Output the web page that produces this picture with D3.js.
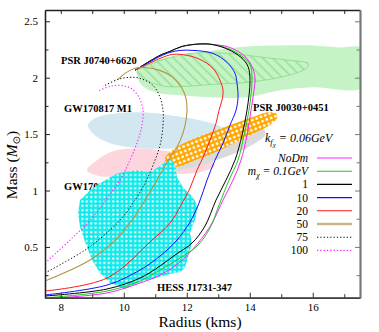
<!DOCTYPE html>
<html>
<head>
<meta charset="utf-8">
<script src="https://cdn.jsdelivr.net/npm/d3@7"></script>
<style>
body { margin: 0; background: #fff; }
svg { display: block; font-family: "Liberation Serif", "Times New Roman", serif; }
</style>
</head>
<body>
<svg id="chart" width="379" height="332"></svg>
<script>
// ---- curves: radius (km) and mass (Msun) ----
const nodmR = [7.976, 9.468, 10.516, 11.151, 11.786, 12.357, 12.802, 13.151, 13.468, 13.722, 13.913, 14.040, 14.135, 14.167, 14.071, 13.881, 13.627, 13.278, 12.738, 12.421, 11.849, 11.468, 11.151, 10.357];
const nodmM = [0.05, 0.092, 0.180, 0.251, 0.366, 0.534, 0.711, 0.915, 1.092, 1.269, 1.490, 1.711, 1.888, 2.003, 2.100, 2.180, 2.233, 2.277, 2.295, 2.299, 2.277, 2.233, 2.198, 2.065];

const m01R = [7.659, 9.468, 10.516, 11.151, 11.786, 12.357, 12.738, 13.024, 13.341, 13.627, 13.817, 13.976, 14.071, 14.008, 13.754, 13.310, 12.802, 12.421, 11.849, 11.468, 11.151, 10.357];
const m01M = [0.052, 0.109, 0.198, 0.295, 0.401, 0.516, 0.667, 0.870, 1.092, 1.269, 1.490, 1.711, 1.976, 2.118, 2.189, 2.259, 2.295, 2.299, 2.277, 2.233, 2.198, 2.065];

const m1R = [7.5, 9.468, 10.516, 11.151, 11.627, 12.167, 12.579, 12.929, 13.246, 13.532, 13.754, 13.913, 14.008, 13.944, 13.722, 13.310, 12.802, 12.421, 11.849, 11.468, 11.151, 10.357];
const m1M = [0.065, 0.127, 0.224, 0.331, 0.428, 0.534, 0.685, 0.915, 1.092, 1.269, 1.490, 1.711, 1.976, 2.100, 2.180, 2.251, 2.295, 2.299, 2.277, 2.233, 2.198, 2.065];

const m10R = [7.5, 9.468, 10.516, 11.151, 11.690, 12.103, 12.389, 12.643, 12.897, 13.151, 13.373, 13.563, 13.627, 13.595, 13.532, 13.278, 12.833, 12.198, 11.786, 11.468, 11.151, 10.357];
const m10M = [0.074, 0.162, 0.295, 0.419, 0.561, 0.720, 0.888, 1.092, 1.269, 1.419, 1.579, 1.711, 1.826, 1.950, 2.038, 2.136, 2.215, 2.242, 2.242, 2.224, 2.189, 2.065];

const m20R = [7.5, 9.468, 10.833, 11.468, 11.817, 12.103, 12.325, 12.548, 12.738, 12.929, 13.024, 13.119, 13.151, 13.056, 12.833, 12.421, 12.008, 11.563, 11.151, 10.357];
const m20M = [0.109, 0.224, 0.543, 0.711, 0.870, 1.021, 1.180, 1.313, 1.446, 1.596, 1.711, 1.800, 1.888, 1.976, 2.083, 2.162, 2.198, 2.207, 2.171, 2.065];

const m50R = [7.5, 8.929, 9.722, 10.262, 10.675, 11.056, 11.373, 11.690, 11.881, 11.976, 12.008, 11.976, 11.849, 11.563, 11.151, 10.675, 10.357, 10.040, 9.817];
const m50M = [0.198, 0.384, 0.561, 0.738, 0.915, 1.092, 1.251, 1.384, 1.508, 1.623, 1.711, 1.817, 1.906, 2.003, 2.065, 2.091, 2.083, 2.038, 1.985];

const m75R = [7.5, 8.770, 9.563, 9.944, 10.357, 10.675, 10.929, 11.151, 11.246, 11.246, 11.151, 10.929, 10.516, 10.198, 9.817, 9.341];
const m75M = [0.269, 0.472, 0.649, 0.755, 0.915, 1.065, 1.224, 1.401, 1.579, 1.711, 1.826, 1.932, 1.994, 2.003, 1.985, 1.923];

const m100R = [7.5, 8.294, 9.024, 9.468, 9.881, 10.198, 10.452, 10.579, 10.611, 10.484, 10.230, 9.881, 9.563, 9.151];
const m100M = [0.357, 0.561, 0.764, 0.932, 1.092, 1.269, 1.446, 1.579, 1.711, 1.826, 1.906, 1.932, 1.923, 1.879];

const seriesNames = ["NoDm", "0.1", "1", "10", "20", "50", "75", "100"];

// ---- observational regions (outline R, M) ----
const j0740BandR = [10.421, 10.833, 11.786, 12.833, 13.913, 14.960, 16.008, 16.865, 17.6, 17.6, 16.008, 14.960, 13.913, 12.833, 11.786, 10.992, 10.579];
const j0740BandM = [2.047, 2.136, 2.198, 2.242, 2.277, 2.286, 2.286, 2.268, 2.259, 1.915, 1.915, 1.888, 1.826, 1.826, 1.844, 1.870, 1.932];

const j0740HatchR = [10.421, 10.833, 11.373, 12.103, 13.373, 14.421, 15.278, 15.849, 15.849, 15.690, 14.960, 13.913, 12.833, 11.944, 11.310, 10.738];
const j0740HatchM = [2.056, 2.118, 2.171, 2.215, 2.215, 2.180, 2.153, 2.127, 2.100, 2.065, 2.003, 1.959, 1.941, 1.923, 1.923, 1.976];

const gwM1R = [8.865, 9.087, 9.786, 10.611, 11.468, 12.421, 13.119, 13.373, 12.897, 11.786, 10.516, 9.563, 9.087];
const gwM1M = [1.579, 1.640, 1.684, 1.693, 1.667, 1.623, 1.561, 1.490, 1.401, 1.375, 1.375, 1.419, 1.490];

const gwM2R = [8.833, 9.151, 9.659, 10.516, 11.627, 12.579, 12.897, 12.421, 11.151, 9.881, 9.246];
const gwM2M = [1.180, 1.269, 1.348, 1.375, 1.339, 1.286, 1.224, 1.162, 1.145, 1.127, 1.127];

const j0030GreyR = [11.405, 12.103, 12.833, 13.532, 14.167, 14.484, 14.452, 14.008, 13.056, 12.103, 11.468];
const j0030GreyM = [1.171, 1.198, 1.260, 1.330, 1.419, 1.490, 1.543, 1.534, 1.428, 1.313, 1.251];

const j0030R = [11.310, 11.532, 12.103, 12.833, 13.532, 14.167, 14.579, 14.833, 14.865, 14.579, 14.008, 13.373, 12.833, 12.262, 11.786, 11.405];
const j0030M = [1.286, 1.357, 1.446, 1.525, 1.596, 1.658, 1.693, 1.684, 1.640, 1.569, 1.490, 1.401, 1.330, 1.269, 1.216, 1.216];

const hessR = [8.548, 8.611, 8.929, 9.246, 9.786, 10.421, 10.833, 11.151, 11.468, 11.627, 11.690, 11.881, 12.198, 12.357, 12.262, 12.103, 12.167, 12.040, 11.944, 11.786, 11.468, 11.151, 10.516, 10.040, 9.563, 9.246, 8.992, 8.770, 8.611];
const hessM = [0.800, 0.915, 1.003, 1.065, 1.154, 1.180, 1.162, 1.215, 1.286, 1.224, 1.118, 1.030, 0.941, 0.853, 0.738, 0.623, 0.534, 0.410, 0.313, 0.277, 0.260, 0.233, 0.189, 0.127, 0.180, 0.269, 0.384, 0.543, 0.676];

// ---- axes ----
const xMajor = [8, 10, 12, 14, 16];
const xMinor = [9, 11, 13, 15, 17];
const yMajor = [0.5, 1, 1.5, 2, 2.5];
const yMinor = [0.25, 0.75, 1.25, 1.75, 2.25];

const zip = (a, b) => a.map((v, i) => [v, b[i]]);

const svg = d3.select("#chart");
const margin = { top: 10, right: 19, bottom: 34.3, left: 45 };
const width = +svg.attr("width") - margin.left - margin.right;
const height = +svg.attr("height") - margin.top - margin.bottom;

const x = d3.scaleLinear().domain([7.5, 17.5]).range([0, width]);
const y = d3.scaleLinear().domain([0.05, 2.6]).range([height, 0]);

const defs = svg.append("defs");
defs.append("clipPath").attr("id", "clip")
    .append("rect").attr("width", width).attr("height", height);

// cyan with white dots
const pc = defs.append("pattern").attr("id", "cyanDots")
    .attr("patternUnits", "userSpaceOnUse").attr("width", 4.4).attr("height", 4.4);
pc.append("rect").attr("width", 4.4).attr("height", 4.4).attr("fill", "#14eaea");
pc.append("circle").attr("cx", 2.2).attr("cy", 2.2).attr("r", 1.15).attr("fill", "#fff");

// orange mesh
const po = defs.append("pattern").attr("id", "orangeMesh")
    .attr("patternUnits", "userSpaceOnUse").attr("width", 4.6).attr("height", 4.6)
    .attr("patternTransform", "rotate(-21)");
po.append("rect").attr("width", 4.6).attr("height", 4.6).attr("fill", "#ffa600");
po.append("circle").attr("cx", 2.3).attr("cy", 2.3).attr("r", 1.4).attr("fill", "#fff");

// green hatch
const ph = defs.append("pattern").attr("id", "greenHatch")
    .attr("patternUnits", "userSpaceOnUse").attr("width", 7).attr("height", 7)
    .attr("patternTransform", "rotate(-45)");
ph.append("line").attr("x1", 1).attr("y1", 0).attr("x2", 1).attr("y2", 7)
    .attr("stroke", "#86dc86").attr("stroke-width", 1.2);

const g = svg.append("g").attr("transform", `translate(${margin.left},${margin.top})`);
const plot = g.append("g").attr("clip-path", "url(#clip)");

const area = d3.line().x(d => x(d[0])).y(d => y(d[1])).curve(d3.curveCatmullRomClosed.alpha(0.5));
const rough = d3.line().x(d => x(d[0])).y(d => y(d[1])).curve(d3.curveLinearClosed);

plot.append("path").attr("d", area(zip(j0740BandR, j0740BandM))).attr("fill", "#c6f3c6");
plot.append("path").attr("d", area(zip(j0740HatchR, j0740HatchM)))
    .attr("fill", "url(#greenHatch)").attr("stroke", "#92e092").attr("stroke-width", 1);
plot.append("path").attr("d", area(zip(gwM1R, gwM1M))).attr("fill", "#d2e7ef");
plot.append("path").attr("d", area(zip(gwM2R, gwM2M))).attr("fill", "#fcd6dc");

// label that sits beneath the HESS region
plot.append("text").attr("x", 64 - margin.left).attr("y", 190 - margin.top)
    .attr("font-weight", "bold").attr("font-size", 10.5).text("GW170817 M2");

plot.append("path").attr("d", area(zip(j0030GreyR, j0030GreyM))).attr("fill", "#dadada");
plot.append("path").attr("d", area(zip(j0030R, j0030M))).attr("fill", "url(#orangeMesh)");
plot.append("path").attr("d", rough(zip(hessR, hessM))).attr("fill", "url(#cyanDots)");

// ---- M-R curves ----
const curveData = [
    { name: seriesNames[0], R: nodmR, M: nodmM },
    { name: seriesNames[1], R: m01R, M: m01M },
    { name: seriesNames[2], R: m1R, M: m1M },
    { name: seriesNames[3], R: m10R, M: m10M },
    { name: seriesNames[4], R: m20R, M: m20M },
    { name: seriesNames[5], R: m50R, M: m50M },
    { name: seriesNames[6], R: m75R, M: m75M },
    { name: seriesNames[7], R: m100R, M: m100M }
];
const style = {
    "NoDm": { color: "#ff22ff", w: 1, dash: null },
    "0.1": { color: "#22c822", w: 1, dash: null },
    "1": { color: "#000", w: 1, dash: null },
    "10": { color: "#1010ff", w: 1, dash: null },
    "20": { color: "#ff1a1a", w: 1, dash: null },
    "50": { color: "#b49446", w: 1.1, dash: null, legendW: 2.6, legendColor: "#c8b68a" },
    "75": { color: "#111", w: 1, dash: "1.3,2" },
    "100": { color: "#ff22ff", w: 1.1, dash: "1.3,2" }
};

const line = d3.line().x(d => x(d[0])).y(d => y(d[1])).curve(d3.curveCatmullRom.alpha(0.5));
plot.selectAll(".mr")
    .data(curveData)
    .join("path")
    .attr("class", "mr")
    .attr("d", d => line(zip(d.R, d.M)))
    .attr("fill", "none")
    .attr("stroke", d => style[d.name].color)
    .attr("stroke-width", d => style[d.name].w)
    .attr("stroke-dasharray", d => style[d.name].dash);

// ---- axes ----
function styleAxis(sel, color) {
    sel.selectAll("path.domain").attr("stroke", color).attr("stroke-width", 1.3);
    sel.selectAll(".tick line").attr("stroke", color).attr("stroke-width", 1);
    sel.selectAll(".tick text").attr("font-size", 11).attr("fill", "#000")
        .attr("font-family", "Liberation Serif, serif");
}

g.append("g").attr("transform", `translate(0,${height})`)
    .call(d3.axisBottom(x).tickValues(xMajor).tickSize(-5).tickSizeOuter(0).tickPadding(6).tickFormat(d => d))
    .call(s => styleAxis(s, "#333"));
g.append("g").attr("transform", `translate(0,${height})`)
    .call(d3.axisBottom(x).tickValues(xMinor).tickSize(-3.5).tickSizeOuter(0).tickFormat(""))
    .call(s => styleAxis(s, "#333"));
g.append("g")
    .call(d3.axisTop(x).tickValues(xMajor.concat(xMinor)).tickSize(-4).tickSizeOuter(0).tickFormat(""))
    .call(s => styleAxis(s, "#222"));

g.append("g")
    .call(d3.axisLeft(y).tickValues(yMajor).tickSize(-5).tickSizeOuter(0).tickPadding(7).tickFormat(d => d))
    .call(s => styleAxis(s, "#222"));
g.append("g")
    .call(d3.axisLeft(y).tickValues(yMinor).tickSize(-3.5).tickSizeOuter(0).tickFormat(""))
    .call(s => styleAxis(s, "#222"));
const right1 = g.append("g").attr("transform", `translate(${width},0)`)
    .call(d3.axisRight(y).tickValues(yMajor).tickSize(-5).tickSizeOuter(0).tickFormat(""))
    .call(s => styleAxis(s, "#777"));
g.append("g").attr("transform", `translate(${width},0)`)
    .call(d3.axisRight(y).tickValues(yMinor).tickSize(-3.5).tickSizeOuter(0).tickFormat(""))
    .call(s => styleAxis(s, "#777"));
right1.select("path.domain").attr("stroke-width", 2);

// axis titles
svg.append("text").attr("x", 200).attr("y", 327).attr("text-anchor", "middle")
    .attr("font-size", 15.5).text("Radius (kms)");
const yt = svg.append("text").attr("transform", "translate(17,165) rotate(-90)")
    .attr("text-anchor", "middle").attr("font-size", 15.5);
yt.append("tspan").text("Mass (");
yt.append("tspan").attr("font-style", "italic").text("M");
yt.append("tspan").attr("font-size", 10).attr("dy", 3).attr("font-family", "DejaVu Sans").text("\u2299");
yt.append("tspan").attr("dy", -3).text(")");

// region labels
const labels = [
    { t: "PSR J0740+6620", px: 61, py: 64 },
    { t: "GW170817 M1", px: 64, py: 112 },
    { t: "PSR J0030+0451", px: 253, py: 111 },
    { t: "HESS J1731-347", px: 157, py: 291 }
];
svg.selectAll(".lbl").data(labels).join("text").attr("class", "lbl")
    .attr("x", d => d.px).attr("y", d => d.py)
    .attr("font-weight", "bold").attr("font-size", 10.5).text(d => d.t);

// legend
const lg = svg.append("g");
const kt = lg.append("text").attr("x", 265).attr("y", 142).attr("font-size", 12).attr("font-style", "italic");
kt.append("tspan").text("k");
kt.append("tspan").attr("font-size", 8.5).attr("dy", 3).text("f");
kt.append("tspan").attr("font-size", 7).attr("dy", 2).text("\u03c7");
kt.append("tspan").attr("dy", -5).text(" = 0.06GeV");

const rowY = d3.scalePoint().domain(seriesNames).range([158, 250.4]);
const rows = lg.selectAll(".row").data(seriesNames).join("g").attr("class", "row")
    .attr("transform", d => `translate(0,${rowY(d)})`);
rows.append("line").attr("x1", 317).attr("x2", 352)
    .attr("stroke", d => style[d].legendColor || style[d].color)
    .attr("stroke-width", d => style[d].legendW || 1.1)
    .attr("stroke-dasharray", d => style[d].dash);
rows.each(function (d, i) {
    const t = d3.select(this).append("text").attr("x", 308).attr("y", 4)
        .attr("text-anchor", "end").attr("font-size", 11.5);
    if (i === 0) {
        t.attr("font-style", "italic").text(d);
    } else if (i === 1) {
        t.attr("font-style", "italic");
        t.append("tspan").text("m");
        t.append("tspan").attr("font-size", 8).attr("dy", 3).text("\u03c7");
        t.append("tspan").attr("dy", -3).text(" = " + d + "GeV");
    } else {
        t.text(d);
    }
});
</script>
</body>
</html>
